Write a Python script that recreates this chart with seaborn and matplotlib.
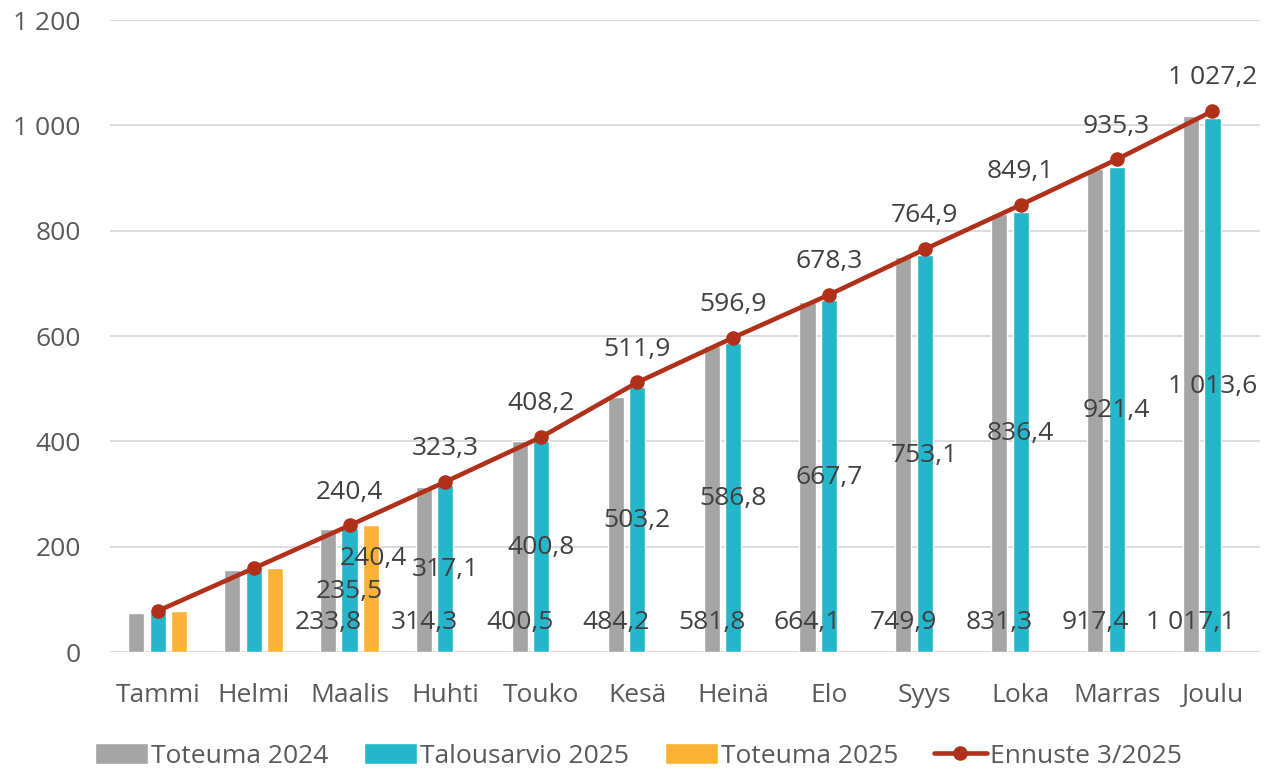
import numpy as np
import pandas as pd
import matplotlib
matplotlib.use("Agg")
import matplotlib.pyplot as plt
import seaborn as sns

months = ["Tammi", "Helmi", "Maalis", "Huhti", "Touko", "Kesä",
          "Heinä", "Elo", "Syys", "Loka", "Marras", "Joulu"]

toteuma_2024 = [75.0, 155.0, 233.8, 314.3, 400.5, 484.2,
                581.8, 664.1, 749.9, 831.3, 917.4, 1017.1]
talousarvio_2025 = [76.0, 157.0, 235.5, 317.1, 400.8, 503.2,
                    586.8, 667.7, 753.1, 836.4, 921.4, 1013.6]
toteuma_2025 = [77.0, 159.0, 240.4] + [np.nan] * 9
ennuste = [78.0, 159.0, 240.4, 323.3, 408.2, 511.9,
           596.9, 678.3, 764.9, 849.1, 935.3, 1027.2]

series = ["Toteuma 2024", "Talousarvio 2025", "Toteuma 2025"]
colors = ["#a5a5a5", "#25b6cc", "#f9b233"]
line_color = "#b13019"
# labels shown from Maalis onwards
first_label = 2


def fi(v):
    return f"{v:,.1f}".replace(",", " ").replace(".", ",")


df = pd.DataFrame({
    "month": months * 3,
    "series": np.repeat(series, len(months)),
    "value": toteuma_2024 + talousarvio_2025 + toteuma_2025,
})
df = df.dropna()

sns.set_theme(style="white")
plt.rcParams["font.family"] = ["Open Sans", "DejaVu Sans"]

fig = plt.figure(figsize=(12.77, 7.73), dpi=100)
ax = fig.add_axes([0.086, 0.1565, 0.901, 0.8175])

sns.barplot(data=df, x="month", y="value", hue="series", order=months,
            hue_order=series, palette=colors, width=0.672, gap=0.25,
            saturation=1, errorbar=None, ax=ax, zorder=2)

x = np.arange(len(months))
sns.lineplot(x=x, y=ennuste, color=line_color, linewidth=3.3, marker="o",
             markersize=10.5, markeredgewidth=0, label="Ennuste 3/2025",
             ax=ax, zorder=4)

lab_kw = dict(ha="center", va="center", fontsize=19, color="#404040",
              textcoords="offset points", zorder=5)

# bar labels
for cont, name in zip(ax.containers, series):
    for i, bar in enumerate(cont):
        h = bar.get_height()
        if i < first_label or np.isnan(h):
            continue
        cx = bar.get_x() + bar.get_width() / 2
        if name == "Toteuma 2024":
            ax.annotate(fi(h), (cx, 0), xytext=(0, 21), **lab_kw)
        elif name == "Talousarvio 2025":
            ax.annotate(fi(h), (cx, h / 2), xytext=(0, -1), **lab_kw)
        else:
            ax.annotate(fi(h), (cx, h), xytext=(2, -24), **lab_kw)

# line labels
for i, v in enumerate(ennuste):
    if i < first_label:
        continue
    ax.annotate(fi(v), (i, v), xytext=(0, 24), **lab_kw)

ax.set_ylim(0, 1200)
ax.set_xlim(-0.5, 11.5)
ax.set_yticks(range(0, 1201, 200))
ax.set_yticklabels([f"{t:,}".replace(",", " ") for t in range(0, 1201, 200)])
ax.set_xlabel("")
ax.set_ylabel("")
ax.grid(axis="y", color="#d9d9d9", linewidth=1.3, zorder=0)
ax.set_axisbelow(True)
for s in ["top", "right", "left", "bottom"]:
    ax.spines[s].set_visible(False)
ax.tick_params(axis="y", length=0, pad=21, labelsize=19, labelcolor="#595959")
ax.tick_params(axis="x", length=0, pad=22, labelsize=19, labelcolor="#595959")

handles, labels = ax.get_legend_handles_labels()
ax.legend_.remove()
fig.legend(handles, labels, loc="lower center", bbox_to_anchor=(0.5, -0.025),
           ncol=4, frameon=False, fontsize=19, handlelength=2.0,
           handleheight=0.85, handletextpad=0.12, columnspacing=1.35,
           labelcolor="#595959")

fig.savefig("out.png", dpi=100)
